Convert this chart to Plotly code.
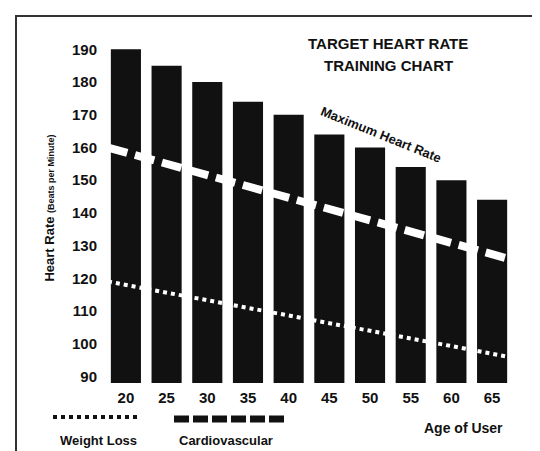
import plotly.graph_objects as go

ages = [20, 25, 30, 35, 40, 45, 50, 55, 60, 65]
max_hr = [190, 185, 180, 174, 170, 164, 160, 154, 150, 144]
cardio_x = [17.8, 71.3]
cardio_y = [160, 123]
weight_x = [17.8, 71.3]
weight_y = [119, 94]
y_ticks = [90, 100, 110, 120, 130, 140, 150, 160, 170, 180, 190]

W, H = 540, 451
L, R, T, B = 100, 3, 25, 76
pw, ph = W - L - R, H - T - B
def px(x): return (x - L) / pw
def py(y): return (H - B - y) / ph

fig = go.Figure()
fig.add_trace(go.Bar(x=ages, y=[v - 88 for v in max_hr], base=88, width=3.7,
                     marker=dict(color="#111111", line=dict(color="#111111", width=0))))
fig.add_trace(go.Scatter(x=cardio_x, y=cardio_y, mode="lines",
                         line=dict(color="white", width=8, dash="20px,8px")))
fig.add_trace(go.Scatter(x=weight_x, y=weight_y, mode="lines",
                         line=dict(color="white", width=4, dash="dot")))

fig.update_layout(
    width=W, height=H, margin=dict(l=L, r=R, t=T, b=B, autoexpand=False),
    paper_bgcolor="white", plot_bgcolor="white", showlegend=False,
    font=dict(family="Liberation Sans, Arial", color="#111"),
    xaxis=dict(range=[17.8, 71.5], tickvals=ages, showgrid=False, zeroline=False, automargin=False,
               showline=False, ticks="", tickfont=dict(size=15, weight="bold"), ticklabelstandoff=4),
    yaxis=dict(range=[88, 195], tickvals=y_ticks, showgrid=False, zeroline=False, automargin=False,
               showline=False, ticks="", tickfont=dict(size=15, weight="bold"), ticklabelstandoff=10,
               title=dict(text="<b>Heart Rate</b> <b><span style='font-size:9px'>(Beats per Minute)</span></b>",
                          font=dict(size=13), standoff=14)),
)

ann = [
    dict(text="<b>TARGET HEART RATE</b>", x=px(380), y=py(35), size=15),
    dict(text="<b>TRAINING CHART</b>", x=px(380), y=py(57), size=15),
    dict(text="<b>Maximum Heart Rate</b>", x=px(373), y=py(126), size=13, angle=22),
    dict(text="<b>Weight Loss</b>", x=px(90), y=py(432), size=13),
    dict(text="<b>Cardiovascular</b>", x=px(218), y=py(432), size=13),
    dict(text="<b>Age of User</b>", x=px(455), y=py(420), size=14),
]
for a in ann:
    fig.add_annotation(text=a["text"], x=a["x"], y=a["y"], xref="paper", yref="paper",
                       xanchor="center", yanchor="middle",
                       showarrow=False, textangle=a.get("angle", 0),
                       font=dict(size=a["size"], color="#111"))

fig.add_shape(type="line", xref="paper", yref="paper", x0=px(45), x1=px(132), y0=py(409), y1=py(409),
              line=dict(color="#111", width=4, dash="dot"))
fig.add_shape(type="line", xref="paper", yref="paper", x0=px(166), x1=px(278), y0=py(411), y1=py(411),
              line=dict(color="#111", width=7, dash="15px,4px"))
fig.add_shape(type="rect", xref="paper", yref="paper", x0=px(8), x1=px(537), y0=py(445), y1=py(8),
              line=dict(color="#333", width=2), layer="below")

fig.write_html("out.html")
